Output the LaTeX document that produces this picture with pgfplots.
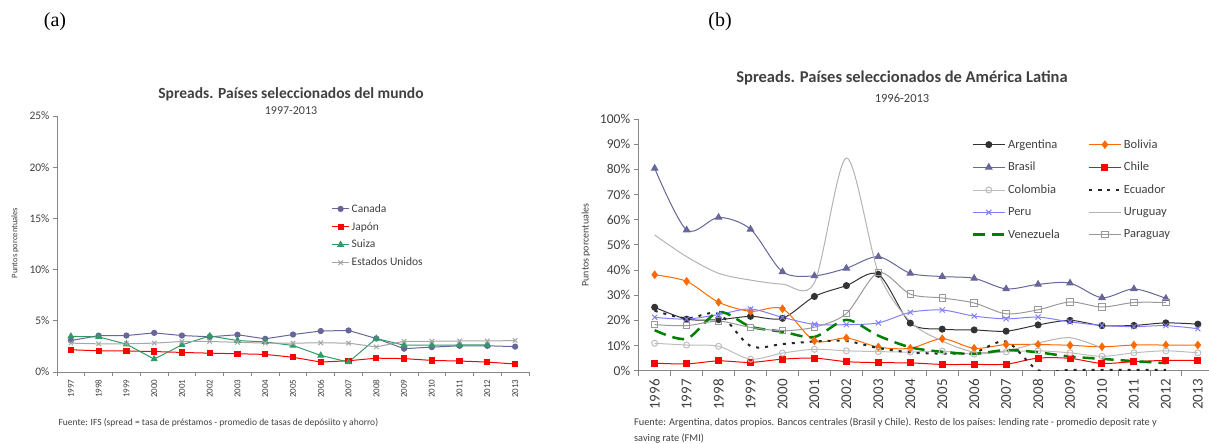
\documentclass[border=0pt]{standalone}
\usepackage{pgfplots}
\pgfplotsset{compat=1.18}
\usepackage{fontspec}
\setmainfont{Carlito}
\newfontfamily\timesfont{Liberation Serif}
\definecolor{canada}{HTML}{666699}
\definecolor{suiza}{HTML}{339966}
\definecolor{eeuu}{HTML}{A6A6A6}
\definecolor{rojo}{HTML}{FF0000}
\definecolor{arg}{HTML}{333333}
\definecolor{bol}{HTML}{FF6A00}
\definecolor{col}{HTML}{BDBDBD}
\definecolor{peru}{HTML}{8080FF}
\definecolor{uru}{HTML}{B3B3B3}
\definecolor{ven}{HTML}{008000}
\definecolor{par}{HTML}{999999}
\definecolor{axisgray}{HTML}{868686}
\definecolor{txt}{HTML}{404040}
\begin{document}
\begin{tikzpicture}
\useasboundingbox (0,0) rectangle (1209pt,-444pt);
% ---------------- (a) ----------------
\begin{axis}[
  scale only axis, width=472pt, height=256pt,
  at={(57pt,-372pt)}, anchor=south west,
  xmin=-0.5, xmax=16.5, ymin=0, ymax=25,
  axis lines=left, axis line style={-, draw=axisgray, line width=0.8pt},
  tick align=outside, major tick length=4pt,
  tick style={draw=axisgray, line width=0.8pt},
  xtick={-0.5,0.5,...,16.5},
  xticklabels={1997,1998,1999,2000,2001,2002,2003,2004,2005,2006,2007,2008,2009,2010,2011,2012,2013},
  xticklabel style={xshift=13.88pt, rotate=90, anchor=east, font=\fontsize{9}{10}\selectfont, text=txt},
  ytick={0,5,...,25},
  yticklabels={0\%,5\%,10\%,15\%,20\%,25\%},
  yticklabel style={font=\fontsize{11.5}{12}\selectfont, text=txt},
  legend style={at={(0.575,0.672)}, anchor=north west, draw=none, fill=none,
    font=\fontsize{11.5}{13}\selectfont, row sep=4.5pt, cells={anchor=west}, text=txt},
]
\addplot[color=canada, mark=*, mark size=2.6pt, line width=1pt] coordinates {
(0,3.07)(1,3.55)(2,3.56)(3,3.82)(4,3.56)(5,3.44)(6,3.64)(7,3.24)(8,3.66)(9,4.0)(10,4.06)(11,3.27)(12,2.28)(13,2.43)(14,2.56)(15,2.56)(16,2.48)};
\addlegendentry{Canada}
\addplot[color=rojo, mark=square*, mark size=2.6pt, line width=1pt] coordinates {
(0,2.17)(1,2.07)(2,2.05)(3,2.0)(4,1.91)(5,1.84)(6,1.78)(7,1.72)(8,1.44)(9,0.97)(10,1.1)(11,1.35)(12,1.31)(13,1.13)(14,1.07)(15,0.97)(16,0.78)};
\addlegendentry{Japón}
\addplot[color=suiza, mark=triangle*, mark size=3.2pt, line width=1pt] coordinates {
(0,3.48)(1,3.43)(2,2.72)(3,1.26)(4,2.65)(5,3.52)(6,3.07)(7,2.94)(8,2.59)(9,1.62)(10,0.97)(11,3.27)(12,2.62)(13,2.62)(14,2.64)(15,2.64)};
\addlegendentry{Suiza}
\addplot[color=eeuu, mark=x, mark size=3.2pt, line width=1pt] coordinates {
(0,2.82)(1,2.75)(2,2.75)(3,2.82)(4,2.98)(5,2.98)(6,2.9)(7,2.82)(8,2.82)(9,2.85)(10,2.82)(11,2.45)(12,3.0)(13,3.0)(14,3.03)(15,3.03)(16,3.07)};
\addlegendentry{Estados Unidos}
\end{axis}
% ---------------- (b) ----------------
\begin{axis}[
  scale only axis, width=570.3pt, height=251.7pt,
  at={(638.7pt,-370.7pt)}, anchor=south west,
  xmin=-0.5, xmax=17.35, ymin=0, ymax=100,
  axis lines=left, axis line style={-, draw=axisgray, line width=0.8pt},
  tick align=outside, major tick length=5pt,
  tick style={draw=axisgray, line width=0.8pt},
  xtick={-0.5,0.5,...,17.5},
  xticklabels={1996,1997,1998,1999,2000,2001,2002,2003,2004,2005,2006,2007,2008,2009,2010,2011,2012,2013},
  xticklabel style={xshift=15.97pt, rotate=90, anchor=east, font=\fontsize{15}{16}\selectfont, text=txt},
  ytick={0,10,...,100},
  yticklabels={0\%,10\%,20\%,30\%,40\%,50\%,60\%,70\%,80\%,90\%,100\%},
  yticklabel style={font=\fontsize{13.5}{14}\selectfont, text=txt},
  legend columns=2,
  legend style={at={(0.578,0.935)}, anchor=north west, draw=none, fill=none,
    font=\fontsize{12.5}{14}\selectfont, row sep=8.5pt, cells={anchor=west}, text=txt,
    /tikz/every even column/.append style={column sep=26pt}},
  legend image code/.code={\draw[mark repeat=2,mark phase=2] plot coordinates {(0pt,0pt)(16pt,0pt)(32pt,0pt)};},
  every axis plot/.append style={smooth, tension=0.5},
]
\addplot[color=arg, mark=*, mark size=3pt, line width=1pt] coordinates {
(0,25.2)(1,20.5)(2,20.3)(3,21.6)(4,20.8)(5,29.5)(6,33.8)(7,38.3)(8,18.9)(9,16.5)(10,16.2)(11,15.7)(12,18.2)(13,20.0)(14,17.9)(15,18.0)(16,19.0)(17,18.5)};
\addlegendentry{Argentina}
\addplot[color=bol, mark=diamond*, mark size=3.6pt, line width=1pt] coordinates {
(0,38.1)(1,35.5)(2,27.2)(3,23.6)(4,24.6)(5,11.9)(6,13.0)(7,9.4)(8,8.9)(9,12.7)(10,8.9)(11,10.4)(12,10.4)(13,10.1)(14,9.5)(15,10.2)(16,10.2)(17,10.2)};
\addlegendentry{Bolivia}
\addplot[color=canada, mark=triangle*, mark size=3.6pt, line width=1pt] coordinates {
(0,80.4)(1,55.9)(2,60.9)(3,56.2)(4,39.3)(5,37.7)(6,40.7)(7,45.3)(8,38.7)(9,37.4)(10,36.7)(11,32.5)(12,34.3)(13,34.8)(14,29.0)(15,32.5)(16,28.7)};
\addlegendentry{Brasil}
\addplot[color=rojo, mark=square*, mark size=3pt, line width=1pt] coordinates {
(0,3.0)(1,2.7)(2,3.9)(3,3.3)(4,4.6)(5,5.0)(6,3.6)(7,3.2)(8,3.1)(9,2.5)(10,2.5)(11,2.6)(12,5.0)(13,4.9)(14,2.9)(15,3.6)(16,4.1)(17,4.1)};
\addlegendentry{Chile}
\addplot[color=col, mark=o, mark size=3pt, line width=1pt, mark options={fill=white}] coordinates {
(0,10.9)(1,10.2)(2,9.7)(3,4.6)(4,7.0)(5,8.5)(6,7.9)(7,7.6)(8,7.4)(9,7.8)(10,6.6)(11,7.5)(12,7.9)(13,7.1)(14,5.7)(15,7.1)(16,7.9)(17,7.1)};
\addlegendentry{Colombia}
\addplot[color=black!85, line width=2pt, dash pattern=on 3pt off 6pt] coordinates {
(0,23.8)(1,20.8)(2,22.6)(3,9.8)(4,10.6)(5,11.6)(6,11.8)(7,9.0)(8,7.3)(9,6.8)(10,7.2)(11,11.6)(12,0.2)(13,0.3)(14,0.3)(15,0.3)(16,0.3)};
\addlegendentry{Ecuador}
\addplot[color=peru, mark=x, mark size=3.6pt, line width=1pt] coordinates {
(0,21.2)(1,20.5)(2,22.3)(3,24.5)(4,21.2)(5,18.4)(6,18.3)(7,19.0)(8,23.2)(9,24.1)(10,21.7)(11,20.6)(12,21.3)(13,19.4)(14,18.0)(15,17.5)(16,17.9)(17,16.7)};
\addlegendentry{Peru}
\addplot[color=uru, line width=1pt] coordinates {
(0,53.9)(1,45.3)(2,38.7)(3,36.0)(4,34.4)(5,35.0)(6,84.5)(7,39.0)(8,19.5)(9,11.8)(10,7.4)(11,7.9)(12,11.0)(13,13.1)(14,9.0)};
\addlegendentry{Uruguay}
\addplot[color=ven, line width=2.5pt, dash pattern=on 12pt off 7pt] coordinates {
(0,16.1)(1,12.7)(2,23.3)(3,17.5)(4,15.5)(5,13.4)(6,20.2)(7,13.9)(8,9.3)(9,7.5)(10,6.7)(11,8.2)(12,7.3)(13,5.6)(14,4.7)(15,3.8)(16,3.0)};
\addlegendentry{Venezuela}
\addplot[color=par, mark=square, mark size=3.2pt, line width=1pt, mark options={fill=white}] coordinates {
(0,18.3)(1,17.9)(2,19.7)(3,17.2)(4,15.9)(5,17.3)(6,22.7)(7,39.0)(8,30.4)(9,28.9)(10,26.9)(11,22.6)(12,24.2)(13,27.3)(14,25.3)(15,27.1)(16,27.1)};
\addlegendentry{Paraguay}
\end{axis}
% ---------------- text ----------------
\node[font=\timesfont\fontsize{20}{22}\selectfont] at (55pt,-22pt) {(a)};
\node[font=\timesfont\fontsize{20}{22}\selectfont] at (720pt,-22pt) {(b)};
\node[font=\bfseries\fontsize{15.5}{17}\selectfont, text=txt] at (291pt,-94pt) {Spreads. Países seleccionados del mundo};
\node[font=\fontsize{12}{13}\selectfont, text=txt] at (291pt,-111pt) {1997-2013};
\node[rotate=90, font=\fontsize{8.5}{9}\selectfont, text=txt] at (15pt,-243pt) {Puntos porcentuales};
\node[anchor=west, font=\fontsize{9.5}{11}\selectfont, text=txt] at (55pt,-423pt) {Fuente: IFS (spread = tasa de préstamos - promedio de tasas de depósiito y ahorro)};
\node[font=\bfseries\fontsize{16.5}{18}\selectfont, text=txt] at (902pt,-78pt) {Spreads. Países seleccionados de América Latina};
\node[font=\fontsize{12.5}{14}\selectfont, text=txt] at (902pt,-98pt) {1996-2013};
\node[rotate=90, font=\fontsize{10}{11}\selectfont, text=txt] at (586pt,-245pt) {Puntos porcentuales};
\node[anchor=north west, align=left, font=\fontsize{10.3}{16}\selectfont, text=txt, inner sep=0pt] at (634pt,-418pt) {Fuente: Argentina, datos propios. Bancos centrales (Brasil y Chile). Resto de los países: lending rate - promedio deposit rate y\\saving rate (FMI)};
\end{tikzpicture}
\end{document}
